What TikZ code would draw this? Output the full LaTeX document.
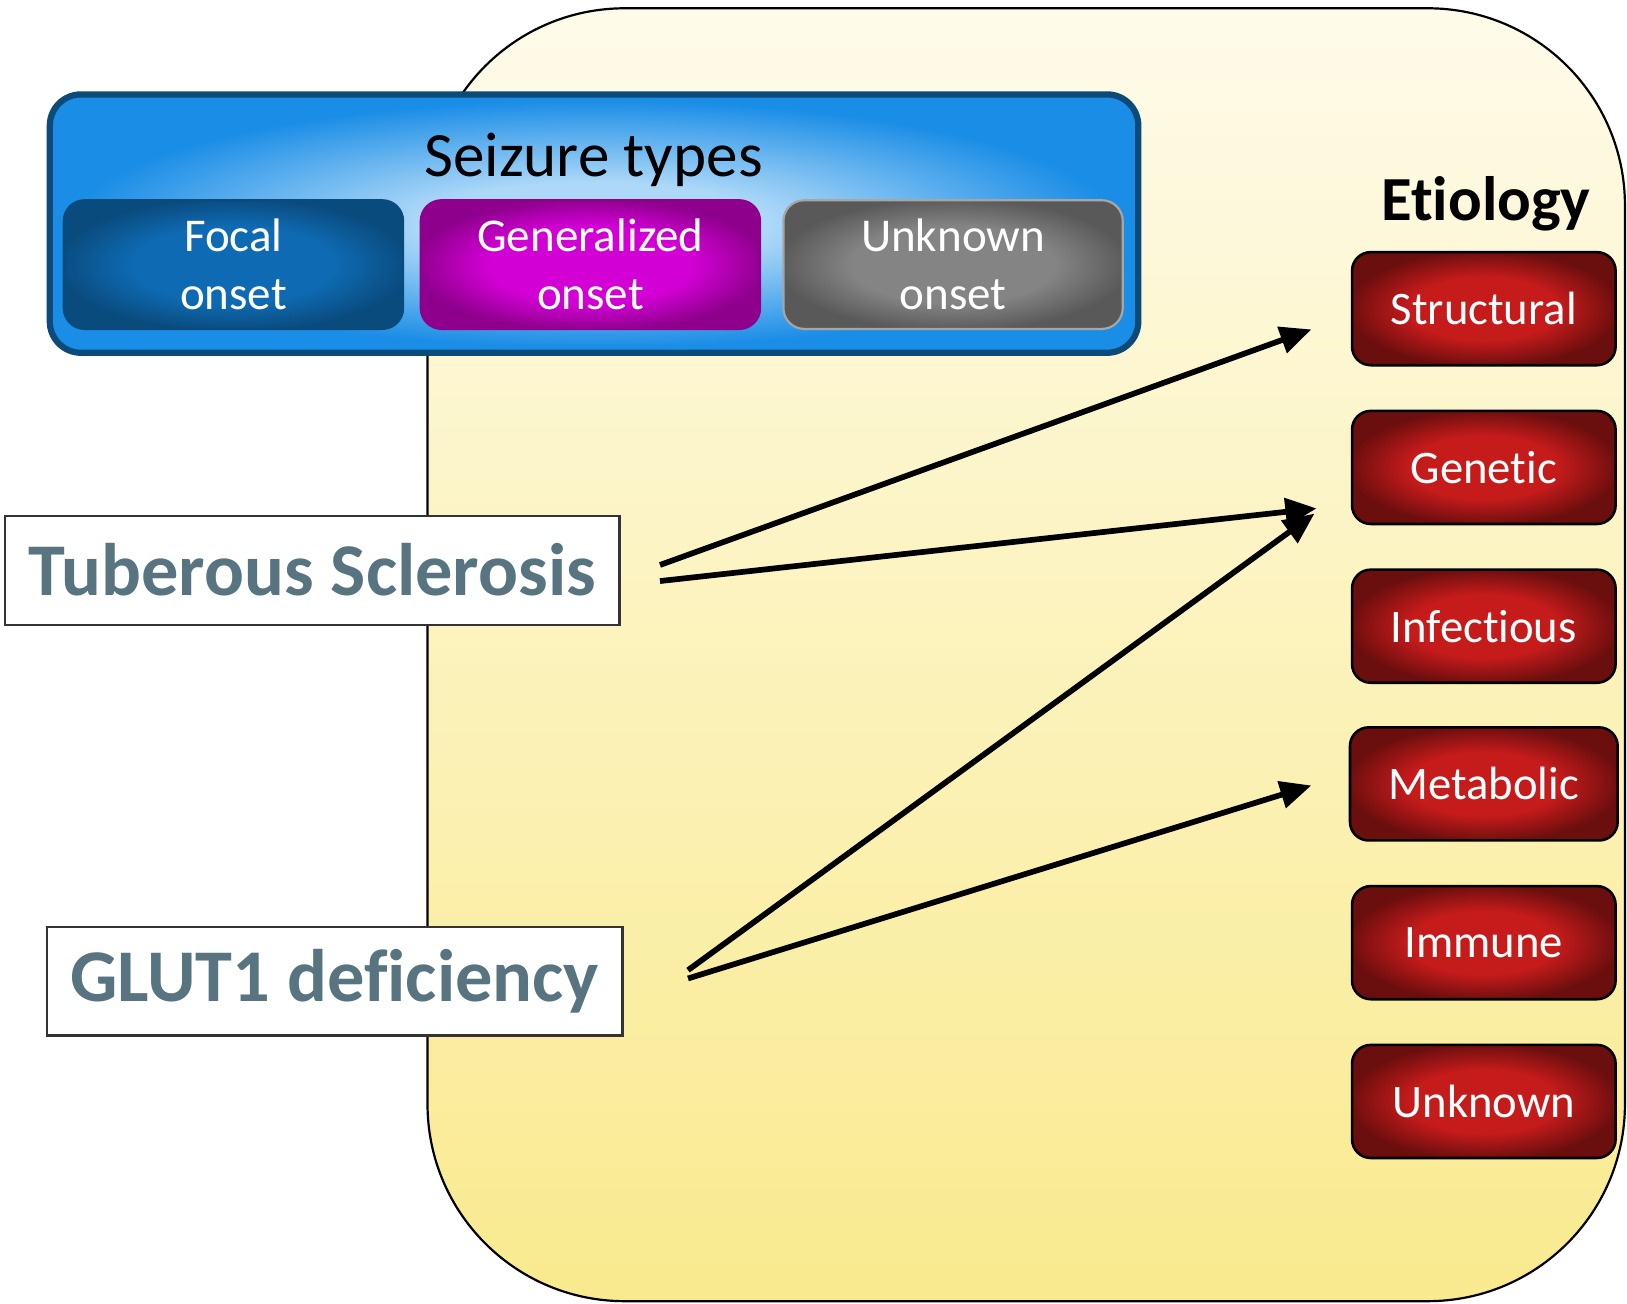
\documentclass[tikz,border=0pt]{standalone}
\usepackage{fontspec}
\setmainfont{Carlito}[Ligatures=NoCommon]
\usepackage{xcolor}
\usepackage{tikz}
\usetikzlibrary{arrows.meta, positioning}
\definecolor{kcream}{HTML}{FEFBEA}
\definecolor{kylw}{HTML}{F9EA8E}
\definecolor{kblue}{HTML}{1A8DE6}
\definecolor{kbluelt}{HTML}{ADD8F8}
\definecolor{kbluedk}{HTML}{0C4A7A}
\definecolor{kfocal}{HTML}{0E6AB2}
\definecolor{kfocaldk}{HTML}{0A4B7E}
\definecolor{kgener}{HTML}{D200D5}
\definecolor{kgenerdk}{HTML}{8E008C}
\definecolor{kunkn}{HTML}{848484}
\definecolor{kunkndk}{HTML}{595959}
\definecolor{kred}{HTML}{C61B1B}
\definecolor{kreddk}{HTML}{6A0E0E}
\definecolor{kslate}{HTML}{587481}
\pgfdeclareradialshading{bluepanel}{\pgfpoint{0bp}{0bp}}{color(0bp)=(kbluelt); color(8bp)=(kbluelt); color(24bp)=(kblue); color(40bp)=(kblue)}
\pgfdeclareradialshading{focalglow}{\pgfpoint{0bp}{0bp}}{color(0bp)=(kfocal); color(15bp)=(kfocal); color(26bp)=(kfocaldk); color(40bp)=(kfocaldk)}
\pgfdeclareradialshading{generglow}{\pgfpoint{0bp}{0bp}}{color(0bp)=(kgener); color(15bp)=(kgener); color(26bp)=(kgenerdk); color(40bp)=(kgenerdk)}
\pgfdeclareradialshading{unknglow}{\pgfpoint{0bp}{0bp}}{color(0bp)=(kunkn); color(15bp)=(kunkn); color(26bp)=(kunkndk); color(40bp)=(kunkndk)}
\pgfdeclareradialshading{redglow}{\pgfpoint{0bp}{0bp}}{color(0bp)=(kred); color(14bp)=(kred); color(26bp)=(kreddk); color(40bp)=(kreddk)}
\begin{document}
\begin{tikzpicture}[x=1cm, y=1cm,
  onset/.style={rounded corners=0.2cm, minimum width=3.27cm, minimum height=1.24cm,
    text=white, align=center, line width=0.6pt, font=\fontsize{12.9}{15.9}\selectfont},
  etio/.style={draw=black, line width=0.7pt, rounded corners=0.18cm, shading=redglow,
    minimum width=2.54cm, minimum height=1.09cm, text=white, font=\fontsize{12.8}{15}\selectfont},
  disease/.style={draw=black!80, fill=white, line width=0.6pt, minimum height=1.05cm,
    text=kslate, font=\bfseries\fontsize{20.4}{24}\selectfont},
  link/.style={line width=0.55mm, -{Triangle[length=3mm, width=2.6mm]}}]
\useasboundingbox (0,0) rectangle (15.68,12.56);
\path[draw=black, line width=0.6pt, rounded corners=1.9cm, top color=kcream, bottom color=kylw]
  (4.12,0.02) rectangle (15.66,12.48);
\node[draw=kbluedk, line width=0.6mm, rounded corners=0.3cm, shading=bluepanel,
  minimum width=10.49cm, minimum height=2.49cm] (seiz) at (5.725,10.405) {};
\node[anchor=base, font=\fontsize{17.3}{20}\selectfont] (seiztitle) at (5.72,10.86) {Seizure types};
\node[onset, draw=kfocaldk, shading=focalglow] (focal) at (2.25,10.01) {Focal\\onset};
\node[onset, draw=kgenerdk, shading=generglow] (gener) at (5.69,10.01) {Generalized\\onset};
\node[onset, draw=black!35, shading=unknglow] (unkn) at (9.185,10.01) {Unknown\\onset};
\node[anchor=base, font=\bfseries\fontsize{17.2}{20}\selectfont] (etiol) at (14.32,10.43) {Etiology};
\node[etio] (struct) at (14.30,9.585) {Structural};
\node[etio] (genet) at (14.30,8.055) {Genetic};
\node[etio] (infect) at (14.30,6.525) {Infectious};
\node[etio, minimum width=2.58cm] (metab) at (14.30,5.005) {Metabolic};
\node[etio] (immun) at (14.30,3.475) {Immune};
\node[etio] (unknown) at (14.30,1.945) {Unknown};
\node[disease, minimum width=5.92cm] (ts) at (3.01,7.065) {Tuberous Sclerosis};
\node[disease, minimum width=5.55cm] (glut) at (3.225,3.105) {GLUT1 deficiency};
\draw[link] ([shift={(0.38,0.05)}]ts.east) -- ([shift={(-0.38,-0.2)}]struct.west);
\draw[link] ([shift={(0.38,-0.105)}]ts.east) -- ([shift={(-0.33,-0.395)}]genet.west);
\draw[link] ([shift={(0.62,0.105)}]glut.east) -- ([shift={(-0.35,-0.445)}]genet.west);
\draw[link] ([shift={(0.62,0.025)}]glut.east) -- ([shift={(-0.36,-0.015)}]metab.west);
\end{tikzpicture}
\end{document}
